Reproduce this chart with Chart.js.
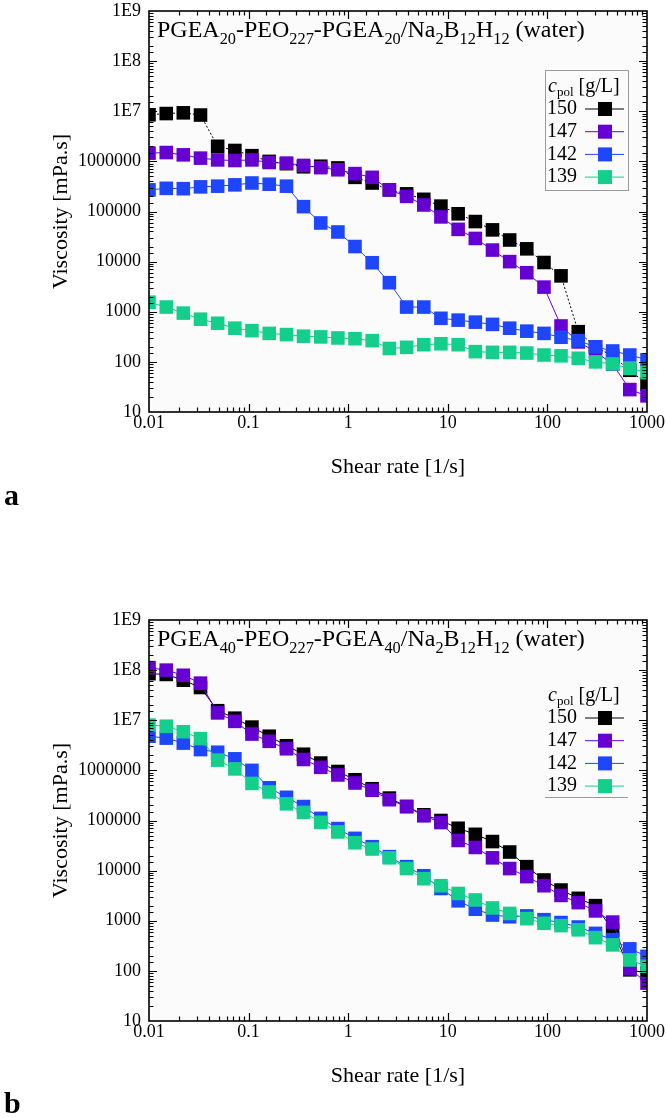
<!DOCTYPE html>
<html>
<head>
<meta charset="utf-8">
<script src="https://cdn.jsdelivr.net/npm/chart.js@4.4.1/dist/chart.umd.min.js"></script>
<style>
  html, body { margin: 0; padding: 0; background: #fff; }
  body { width: 666px; height: 1118px; position: relative; overflow: hidden; }
  .panel { position: absolute; left: 0; width: 666px; height: 480px; }
  .tag { position: absolute; left: 4px; font: bold 30px 'Liberation Serif', 'Times New Roman', serif; color: #000; line-height: 30px; }
</style>
</head>
<body>
<div class="panel" style="top:0"><canvas id="chartA" width="666" height="480"></canvas></div>
<div class="tag" style="top:480px">a</div>
<div class="panel" style="top:609px"><canvas id="chartB" width="666" height="480"></canvas></div>
<div class="tag" style="top:1088px">b</div>
<script>
// shear rate points, shared by every curve (1/s)
const shearRate = [0.01, 0.0149, 0.0221, 0.0329, 0.0489, 0.0728, 0.108, 0.161, 0.240, 0.356,
  0.530, 0.788, 1.17, 1.74, 2.59, 3.86, 5.74, 8.53, 12.7, 18.9,
  28.1, 41.8, 62.1, 92.4, 137, 204, 304, 452, 672, 1000];

const concentrations = ['150', '147', '142', '139'];
const seriesColors = ['#000000', '#6600d2', '#1e46ff', '#14cf8c'];

// panel a: PGEA20-PEO227-PGEA20 (mPa.s)
const a150 = [8.5e6, 9.0e6, 9.3e6, 8.4e6, 2.0e6, 1.65e6, 1.3e6, 1.0e6, 9.0e5, 7.8e5,
  8.0e5, 7.4e5, 4.8e5, 3.7e5, 2.7e5, 2.25e5, 1.75e5, 1.28e5, 9.0e4, 6.3e4,
  4.3e4, 2.7e4, 1.8e4, 9.6e3, 5.2e3, 400, 200, 130, 68, 36];
const a147 = [1.46e6, 1.5e6, 1.35e6, 1.16e6, 1.07e6, 1.04e6, 1.07e6, 9.5e5, 9.2e5, 8.3e5,
  7.5e5, 6.8e5, 5.7e5, 4.8e5, 2.7e5, 2.0e5, 1.35e5, 7.8e4, 4.4e4, 2.9e4,
  1.7e4, 1.0e4, 6.0e3, 3.1e3, 520, 250, 160, 90, 28, 21];
const a142 = [2.7e5, 2.9e5, 2.85e5, 3.1e5, 3.2e5, 3.4e5, 3.7e5, 3.5e5, 3.2e5, 1.25e5,
  5.9e4, 3.9e4, 2.0e4, 9.5e3, 3.8e3, 1.24e3, 1.24e3, 740, 680, 620,
  560, 470, 410, 370, 310, 265, 200, 165, 137, 110];
const a139 = [1.55e3, 1.24e3, 940, 710, 590, 470, 420, 370, 350, 325,
  315, 300, 290, 265, 185, 195, 220, 230, 220, 160,
  155, 155, 150, 137, 132, 118, 100, 91, 74, 61];

// panel b: PGEA40-PEO227-PGEA40 (mPa.s)
const b150 = [8.5e7, 8.2e7, 6.3e7, 4.5e7, 1.55e7, 1.1e7, 7.3e6, 4.8e6, 3.1e6, 2.1e6,
  1.4e6, 9.5e5, 6.5e5, 4.3e5, 2.8e5, 1.9e5, 1.3e5, 1.0e5, 7.0e4, 5.3e4,
  3.8e4, 2.35e4, 1.2e4, 6.5e3, 4.1e3, 2.8e3, 2.0e3, 650, 105, 90];
const b147 = [1.12e8, 1.0e8, 7.9e7, 5.5e7, 1.4e7, 9.5e6, 5.3e6, 3.8e6, 2.7e6, 1.65e6,
  1.15e6, 8.1e5, 5.6e5, 4.0e5, 2.6e5, 1.9e5, 1.24e5, 9.1e4, 4.0e4, 2.9e4,
  1.8e4, 1.1e4, 7.6e3, 5.0e3, 3.2e3, 2.3e3, 1.57e3, 940, 110, 57];
const b142 = [4.8e6, 4.4e6, 3.5e6, 2.6e6, 2.3e6, 1.7e6, 1.0e6, 4.5e5, 2.9e5, 1.9e5,
  1.1e5, 6.9e4, 4.4e4, 3.0e4, 1.9e4, 1.2e4, 7.9e3, 4.4e3, 2.5e3, 1.7e3,
  1.3e3, 1.2e3, 1.25e3, 1.05e3, 920, 750, 560, 420, 275, 195];
const b139 = [8.0e6, 7.6e6, 5.9e6, 4.3e6, 1.6e6, 1.07e6, 5.5e5, 3.7e5, 2.15e5, 1.45e5,
  9.2e4, 5.9e4, 3.6e4, 2.7e4, 1.8e4, 1.1e4, 6.9e3, 5.0e3, 3.5e3, 2.6e3,
  1.8e3, 1.4e3, 1.1e3, 890, 800, 660, 460, 330, 165, 123];

// [text, isSubscript]
const titleA = [['PGEA', 0], ['20', 1], ['-PEO', 0], ['227', 1], ['-PGEA', 0], ['20', 1],
  ['/Na', 0], ['2', 1], ['B', 0], ['12', 1], ['H', 0], ['12', 1], [' (water)', 0]];
const titleB = [['PGEA', 0], ['40', 1], ['-PEO', 0], ['227', 1], ['-PGEA', 0], ['40', 1],
  ['/Na', 0], ['2', 1], ['B', 0], ['12', 1], ['H', 0], ['12', 1], [' (water)', 0]];

const FONT = "'Liberation Serif', 'Times New Roman', serif";

function isDecade(v) {
  const e = Math.log10(v);
  return Math.abs(e - Math.round(e)) < 1e-6;
}

function drawRich(ctx, x, y, parts, size) {
  for (const [t, sub] of parts) {
    const s = sub ? size * 0.68 : size;
    ctx.font = `${s}px ${FONT}`;
    ctx.fillText(t, x, y + (sub ? size * 0.3 : 0));
    x += ctx.measureText(t).width;
  }
  return x;
}

// frame, inward ticks, in-plot title and legend
const framePlugin = {
  id: 'frame',
  beforeDatasetsDraw(chart) {
    const { ctx, chartArea: a } = chart;
    ctx.save();
    ctx.fillStyle = '#fbfbfb';
    ctx.fillRect(a.left, a.top, a.width, a.height);
    ctx.restore();
  },
  afterDatasetsDraw(chart, args, o) {
    const { ctx, chartArea: a, scales: { x, y } } = chart;
    ctx.save();
    ctx.strokeStyle = '#000';
    ctx.lineWidth = 1.2;
    ctx.beginPath();
    for (const t of x.ticks) {
      const px = Math.round(x.getPixelForValue(t.value)) + 0.5;
      if (px < a.left + 1 || px > a.right - 1) continue;
      const len = isDecade(t.value) ? 8 : 4.5;
      ctx.moveTo(px, a.bottom); ctx.lineTo(px, a.bottom - len);
      ctx.moveTo(px, a.top); ctx.lineTo(px, a.top + len);
    }
    for (const t of y.ticks) {
      const py = Math.round(y.getPixelForValue(t.value)) + 0.5;
      if (py < a.top + 1 || py > a.bottom - 1) continue;
      const len = isDecade(t.value) ? 8 : 4.5;
      ctx.moveTo(a.left, py); ctx.lineTo(a.left + len, py);
      ctx.moveTo(a.right, py); ctx.lineTo(a.right - len, py);
    }
    ctx.stroke();
    ctx.lineWidth = 1.6;
    ctx.strokeRect(a.left, a.top, a.width, a.height);

    // title inside the plot
    ctx.fillStyle = '#000';
    ctx.textBaseline = 'alphabetic';
    drawRich(ctx, a.left + 8, a.top + 26, o.title, 24);

    // legend
    const lx = a.left + 396, ltop = a.top + 59, lw = 83, lh = 120;
    ctx.strokeStyle = '#9a9a9a';
    ctx.lineWidth = 1;
    if (o.box) {
      ctx.strokeRect(lx + 0.5, ltop + 0.5, lw, lh);
    } else {
      ctx.beginPath();
      ctx.moveTo(lx, ltop + lh - 1.5); ctx.lineTo(lx + lw, ltop + lh - 1.5);
      ctx.stroke();
    }
    ctx.fillStyle = '#000';
    ctx.textBaseline = 'middle';
    let tx = lx + 3;
    const hy = a.top + 76;
    ctx.font = `italic 20px ${FONT}`;
    ctx.fillText('c', tx, hy);
    tx += ctx.measureText('c').width;
    ctx.font = `13px ${FONT}`;
    ctx.fillText('pol', tx, hy + 6);
    tx += ctx.measureText('pol').width;
    ctx.font = `20px ${FONT}`;
    ctx.fillText(' [g/L]', tx, hy);

    chart.data.datasets.forEach((ds, i) => {
      const ey = a.top + 98 + i * 22.7;
      ctx.fillStyle = '#000';
      ctx.font = `20px ${FONT}`;
      ctx.fillText(ds.label, lx + 2, ey);
      ctx.strokeStyle = ds.borderColor;
      ctx.lineWidth = 1;
      ctx.beginPath();
      ctx.moveTo(lx + 40, ey); ctx.lineTo(lx + 79, ey);
      ctx.stroke();
      ctx.fillStyle = ds.pointBackgroundColor;
      ctx.fillRect(lx + 53, ey - 7, 14, 14);
    });
    ctx.restore();
  },
};

function yLabel(v) {
  if (!isDecade(v)) return '';
  const e = Math.round(Math.log10(v));
  return e >= 7 ? '1E' + e : String(Math.round(v));
}

function xLabel(v) {
  if (!isDecade(v)) return '';
  return String(Number(v.toPrecision(2)));
}

function makeChart(id, series, title, box, dotted) {
  const datasets = series.map((vals, i) => ({
    label: concentrations[i],
    data: shearRate.map((x, j) => ({ x, y: vals[j] })),
    borderColor: seriesColors[i],
    borderWidth: 1,
    borderDash: dotted && i === 0 ? [2, 2] : [],
    pointStyle: 'rect',
    pointRadius: 9.6,
    pointHoverRadius: 9.6,
    pointBackgroundColor: seriesColors[i],
    pointBorderWidth: 0,
    tension: 0,
    clip: 0,
    order: series.length - i,
  }));

  return new Chart(document.getElementById(id), {
    type: 'line',
    data: { datasets },
    plugins: [framePlugin],
    options: {
      responsive: false,
      devicePixelRatio: 1,
      animation: false,
      events: [],
      layout: { padding: { top: 11, right: 19, bottom: 0, left: 0 } },
      plugins: {
        legend: { display: false },
        tooltip: { enabled: false },
        frame: { title, box },
      },
      scales: {
        x: {
          type: 'logarithmic',
          position: 'bottom',
          min: 0.01,
          max: 1000,
          grid: { display: false, drawTicks: false },
          border: { display: false },
          ticks: {
            autoSkip: false,
            maxRotation: 0,
            padding: 0,
            color: '#000',
            font: { family: FONT, size: 18 },
            callback: xLabel,
          },
          title: {
            display: true,
            text: 'Shear rate [1/s]',
            color: '#000',
            font: { family: FONT, size: 22 },
            padding: { top: 0, bottom: 0 },
          },
          afterFit(s) { s.height = 68; s.paddingLeft = 0; s.paddingRight = 0; },
        },
        y: {
          type: 'logarithmic',
          position: 'left',
          min: 10,
          max: 1e9,
          grid: { display: false, drawTicks: false },
          border: { display: false },
          ticks: {
            autoSkip: false,
            padding: 8,
            color: '#000',
            font: { family: FONT, size: 18 },
            callback: yLabel,
          },
          title: {
            display: true,
            text: 'Viscosity [mPa.s]',
            color: '#000',
            font: { family: FONT, size: 22 },
            padding: { top: 48, bottom: 0 },
          },
          afterFit(s) { s.width = 149; s.paddingTop = 0; s.paddingBottom = 0; },
        },
      },
    },
  });
}

makeChart('chartA', [a150, a147, a142, a139], titleA, true, true);
makeChart('chartB', [b150, b147, b142, b139], titleB, false, false);
</script>
</body>
</html>
